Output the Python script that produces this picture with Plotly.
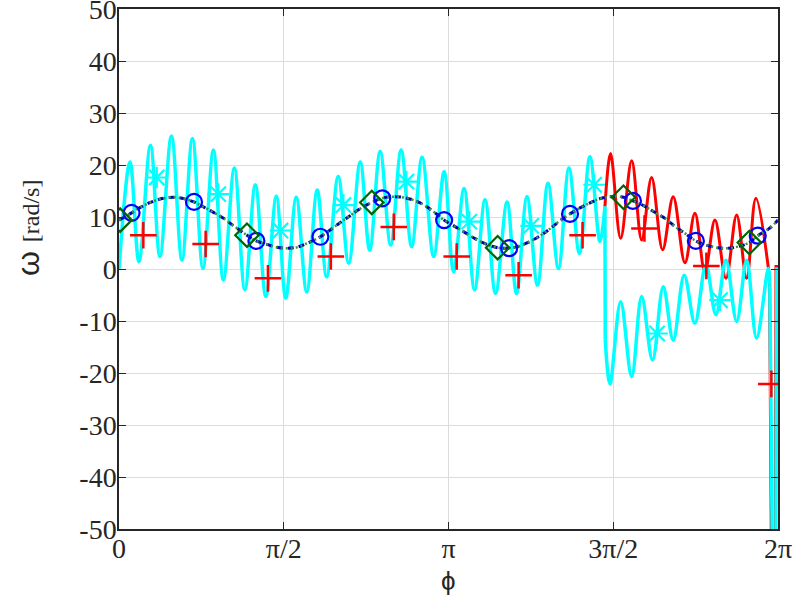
import plotly.graph_objects as go
import math

PI = math.pi

# ---- data ----
# smooth baseline curve (blue dashed / green dotted)
base_x = [0.0, 0.12, 0.2, 0.3, 0.4, 0.52, 0.6, 0.715, 0.8, 0.9, 1.0, 1.1, 1.22, 1.31, 1.4, 1.5, 1.6, 1.7, 1.8, 1.92,
          2.0, 2.1, 2.2, 2.3, 2.41, 2.51, 2.6, 2.7, 2.8, 2.9, 3.0, 3.1, 3.2, 3.3, 3.4, 3.5, 3.61, 3.72, 3.8, 3.9,
          4.0, 4.1, 4.2, 4.3, 4.4, 4.5, 4.6, 4.7, 4.81, 4.9, 5.0, 5.1, 5.2, 5.3, 5.4, 5.5, 5.6, 5.7, 5.8, 5.9,
          6.01, 6.09, 6.2, 6.283]
base_y = [9.4, 10.8, 11.8, 12.8, 13.5, 13.8, 13.6, 12.9, 12.0, 10.9, 9.7, 8.2, 6.5, 5.4, 4.8, 4.2, 4.0, 4.2, 5.0, 6.2,
          7.3, 8.8, 10.2, 11.6, 12.8, 13.6, 13.9, 13.8, 13.3, 12.4, 11.0, 9.4, 8.2, 7.0, 5.8, 4.8, 4.1, 4.0, 4.3, 5.1,
          6.2, 7.6, 9.2, 10.6, 11.8, 12.8, 13.6, 13.9, 13.8, 13.1, 12.2, 11.0, 9.8, 8.2, 6.8, 5.4, 4.6, 4.1, 4.0, 4.3,
          5.1, 6.4, 7.8, 9.4]

circle_x = [0.12, 0.715, 1.31, 1.92, 2.51, 3.10, 3.72, 4.30, 4.90, 5.50, 6.09]
circle_y = [10.8, 12.9, 5.4, 6.2, 13.6, 9.4, 4.0, 10.6, 13.1, 5.4, 6.4]

diamond_x = [0.01, 1.22, 2.41, 3.61, 4.81, 6.01]
diamond_y = [9.4, 6.5, 12.8, 4.1, 13.8, 5.1]

# cyan oscillating curve (extrema)
cyan_x = [0.0, 0.105, 0.19, 0.30, 0.39, 0.50, 0.60, 0.70, 0.80, 0.90, 0.995, 1.10, 1.20, 1.30, 1.40, 1.50, 1.59,
          1.69, 1.79, 1.89, 1.98, 2.09, 2.19, 2.30, 2.39, 2.49, 2.59, 2.69, 2.79, 2.89, 3.00, 3.10, 3.19, 3.29,
          3.39, 3.49, 3.59, 3.70, 3.79, 3.89, 3.99, 4.09, 4.19, 4.29, 4.39, 4.49, 4.585, 4.633]
cyan_y = [0.0, 20.6, 1.4, 23.8, 2.4, 25.6, 1.7, 25.1, 0.1, 22.9, -2.1, 19.4, -4.0, 16.2, -5.3, 14.0, -5.6,
          13.8, -4.4, 15.2, -1.5, 17.8, 1.1, 20.6, 3.6, 22.6, 4.6, 22.9, 4.3, 21.5, 2.4, 18.7, -0.5, 15.5,
          -4.0, 13.3, -4.7, 12.9, -4.7, 13.9, -3.1, 16.5, 0.1, 19.4, 3.0, 21.6, 5.3, 12.0]
cyan_drop_x = [4.633, 4.636]
cyan_drop_y = [12.0, -13.6]
cyan2_x = [4.636, 4.681, 4.783, 4.888, 4.983, 5.087, 5.189, 5.284, 5.389, 5.491, 5.596, 5.691, 5.787,
           5.889, 5.984, 6.079, 6.190, 6.205]
cyan2_y = [-13.6, -22.1, -6.3, -20.7, -5.3, -17.5, -3.4, -13.7, -1.2, -10.4, 0.8, -8.8, 1.7,
           -10.1, 1.7, -13.3, 0.1, -3.0]
cyan_end_x = [6.205, 6.232, 6.262, 6.272, 6.283]
cyan_end_y = [-3.0, -60.0, -60.0, 0.0, 0.0]

star_x = [0.36, 0.947, 1.54, 2.14, 2.74, 3.34, 3.93, 4.53, 5.13, 5.73]
star_y = [17.6, 14.4, 7.4, 12.3, 16.8, 9.1, 8.3, 16.2, -12.4, -6.0]

# red oscillating curve (extrema)
red_x = [4.633, 4.687, 4.783, 4.888, 4.983, 5.078, 5.183, 5.284, 5.396, 5.491, 5.586, 5.682, 5.787,
         5.889, 5.984, 6.072, 6.190, 6.203]
red_y = [12.0, 22.2, 5.9, 20.8, 5.6, 17.6, 3.7, 13.9, 1.2, 10.7, -0.5, 9.4, -1.8,
         10.4, -1.8, 13.6, 0.4, -3.0]
red_end_x = [6.203, 6.222, 6.258, 6.264, 6.283]
red_end_y = [-3.0, -60.0, -60.0, 0.5, 0.5]

plus_x = [0.232, 0.826, 1.42, 2.02, 2.62, 3.22, 3.81, 4.42, 5.01, 5.60, 6.22]
plus_y = [6.5, 4.8, -1.8, 2.4, 8.1, 2.4, -1.2, 6.5, 7.8, 0.6, -22.1]

x_ticks = [0, PI / 2, PI, 3 * PI / 2, 2 * PI]
x_tick_text = ["0", "π/2", "π", "3π/2", "2π"]
y_ticks = [-50, -40, -30, -20, -10, 0, 10, 20, 30, 40, 50]
y_tick_text = ["-50", "-40", "-30", "-20", "-10", "0", "10", "20", "30", "40", "50"]

CYAN = "#00ffff"
RED = "#ff0000"
SERIF = "Liberation Serif"

fig = go.Figure()

# red line
fig.add_trace(go.Scatter(x=red_x, y=red_y, mode="lines", line=dict(color=RED, width=3, shape="spline", smoothing=1.0),
                         showlegend=False, hoverinfo="skip"))
fig.add_trace(go.Scatter(x=red_end_x, y=red_end_y, mode="lines", line=dict(color=RED, width=3),
                         showlegend=False, hoverinfo="skip"))
# cyan line
for xs, ys, sh in [(cyan_x, cyan_y, "spline"), (cyan_drop_x, cyan_drop_y, "linear"),
                   (cyan2_x, cyan2_y, "spline"), (cyan_end_x, cyan_end_y, "linear")]:
    ln = dict(color=CYAN, width=3.5, shape=sh)
    if sh == "spline":
        ln["smoothing"] = 1.0
    fig.add_trace(go.Scatter(x=xs, y=ys, mode="lines", line=ln, showlegend=False, hoverinfo="skip"))

# baseline curve: blue dashes + green dots
fig.add_trace(go.Scatter(x=base_x, y=base_y, mode="lines",
                         line=dict(color="#0000b4", width=3, dash="6px,5px", shape="spline"),
                         showlegend=False, hoverinfo="skip"))
fig.add_trace(go.Scatter(x=base_x, y=base_y, mode="lines",
                         line=dict(color="#3c963c", width=2.5, dash="2px,3px", shape="spline"),
                         showlegend=False, hoverinfo="skip"))

# markers
fig.add_trace(go.Scatter(x=circle_x, y=circle_y, mode="markers",
                         marker=dict(symbol="circle-open", size=16, color="#0000ff", line=dict(width=2.2)),
                         showlegend=False, hoverinfo="skip"))
fig.add_trace(go.Scatter(x=diamond_x, y=diamond_y, mode="markers",
                         marker=dict(symbol="diamond-open", size=18, color="#006400", line=dict(width=2.2)),
                         showlegend=False, hoverinfo="skip"))
fig.add_trace(go.Scatter(x=star_x, y=star_y, mode="markers",
                         marker=dict(symbol="asterisk-open", size=18, color=CYAN, line=dict(width=2.2, color=CYAN)),
                         showlegend=False, hoverinfo="skip"))
fig.add_trace(go.Scatter(x=plus_x, y=plus_y, mode="markers",
                         marker=dict(symbol="cross-thin-open", size=19, color=RED, line=dict(width=2.5, color=RED)),
                         showlegend=False, hoverinfo="skip"))

axis_common = dict(
    showline=True, linecolor="#262626", linewidth=1.5, mirror="ticks",
    ticks="inside", ticklen=7, tickwidth=1.3, tickcolor="#262626",
    showgrid=True, gridcolor="#dcdcdc", gridwidth=1.3, zeroline=False,
    ticklabeloverflow="allow", automargin=False,
    tickfont=dict(family=SERIF, size=28, color="#262626"),
)

fig.update_xaxes(range=[0, 2 * PI], tickvals=x_ticks, ticktext=x_tick_text, ticklabelstandoff=-6, **axis_common)
fig.update_yaxes(range=[-50, 50.0001], tickvals=y_ticks, ticktext=y_tick_text, ticklabelstandoff=-5, **axis_common)

fig.add_annotation(xref="paper", yref="paper", x=0.5, y=-0.10, yanchor="middle", xanchor="center",
                   text="ϕ", showarrow=False,
                   font=dict(family="Liberation Sans", size=26, color="#262626"))
fig.add_annotation(xref="paper", yref="paper", x=-0.137, y=0.58, xanchor="center", yanchor="middle",
                   textangle=-90, showarrow=False,
                   text="ω <span style=\"font-family:'Liberation Serif'; font-size:24px\">[rad/s]</span>",
                   font=dict(family="Liberation Sans", size=32, color="#262626"))

fig.update_layout(
    width=807, height=602,
    margin=dict(l=119, r=29, t=9, b=73, autoexpand=False),
    paper_bgcolor="white", plot_bgcolor="white",
    showlegend=False,
)

fig.write_html("out.html")
